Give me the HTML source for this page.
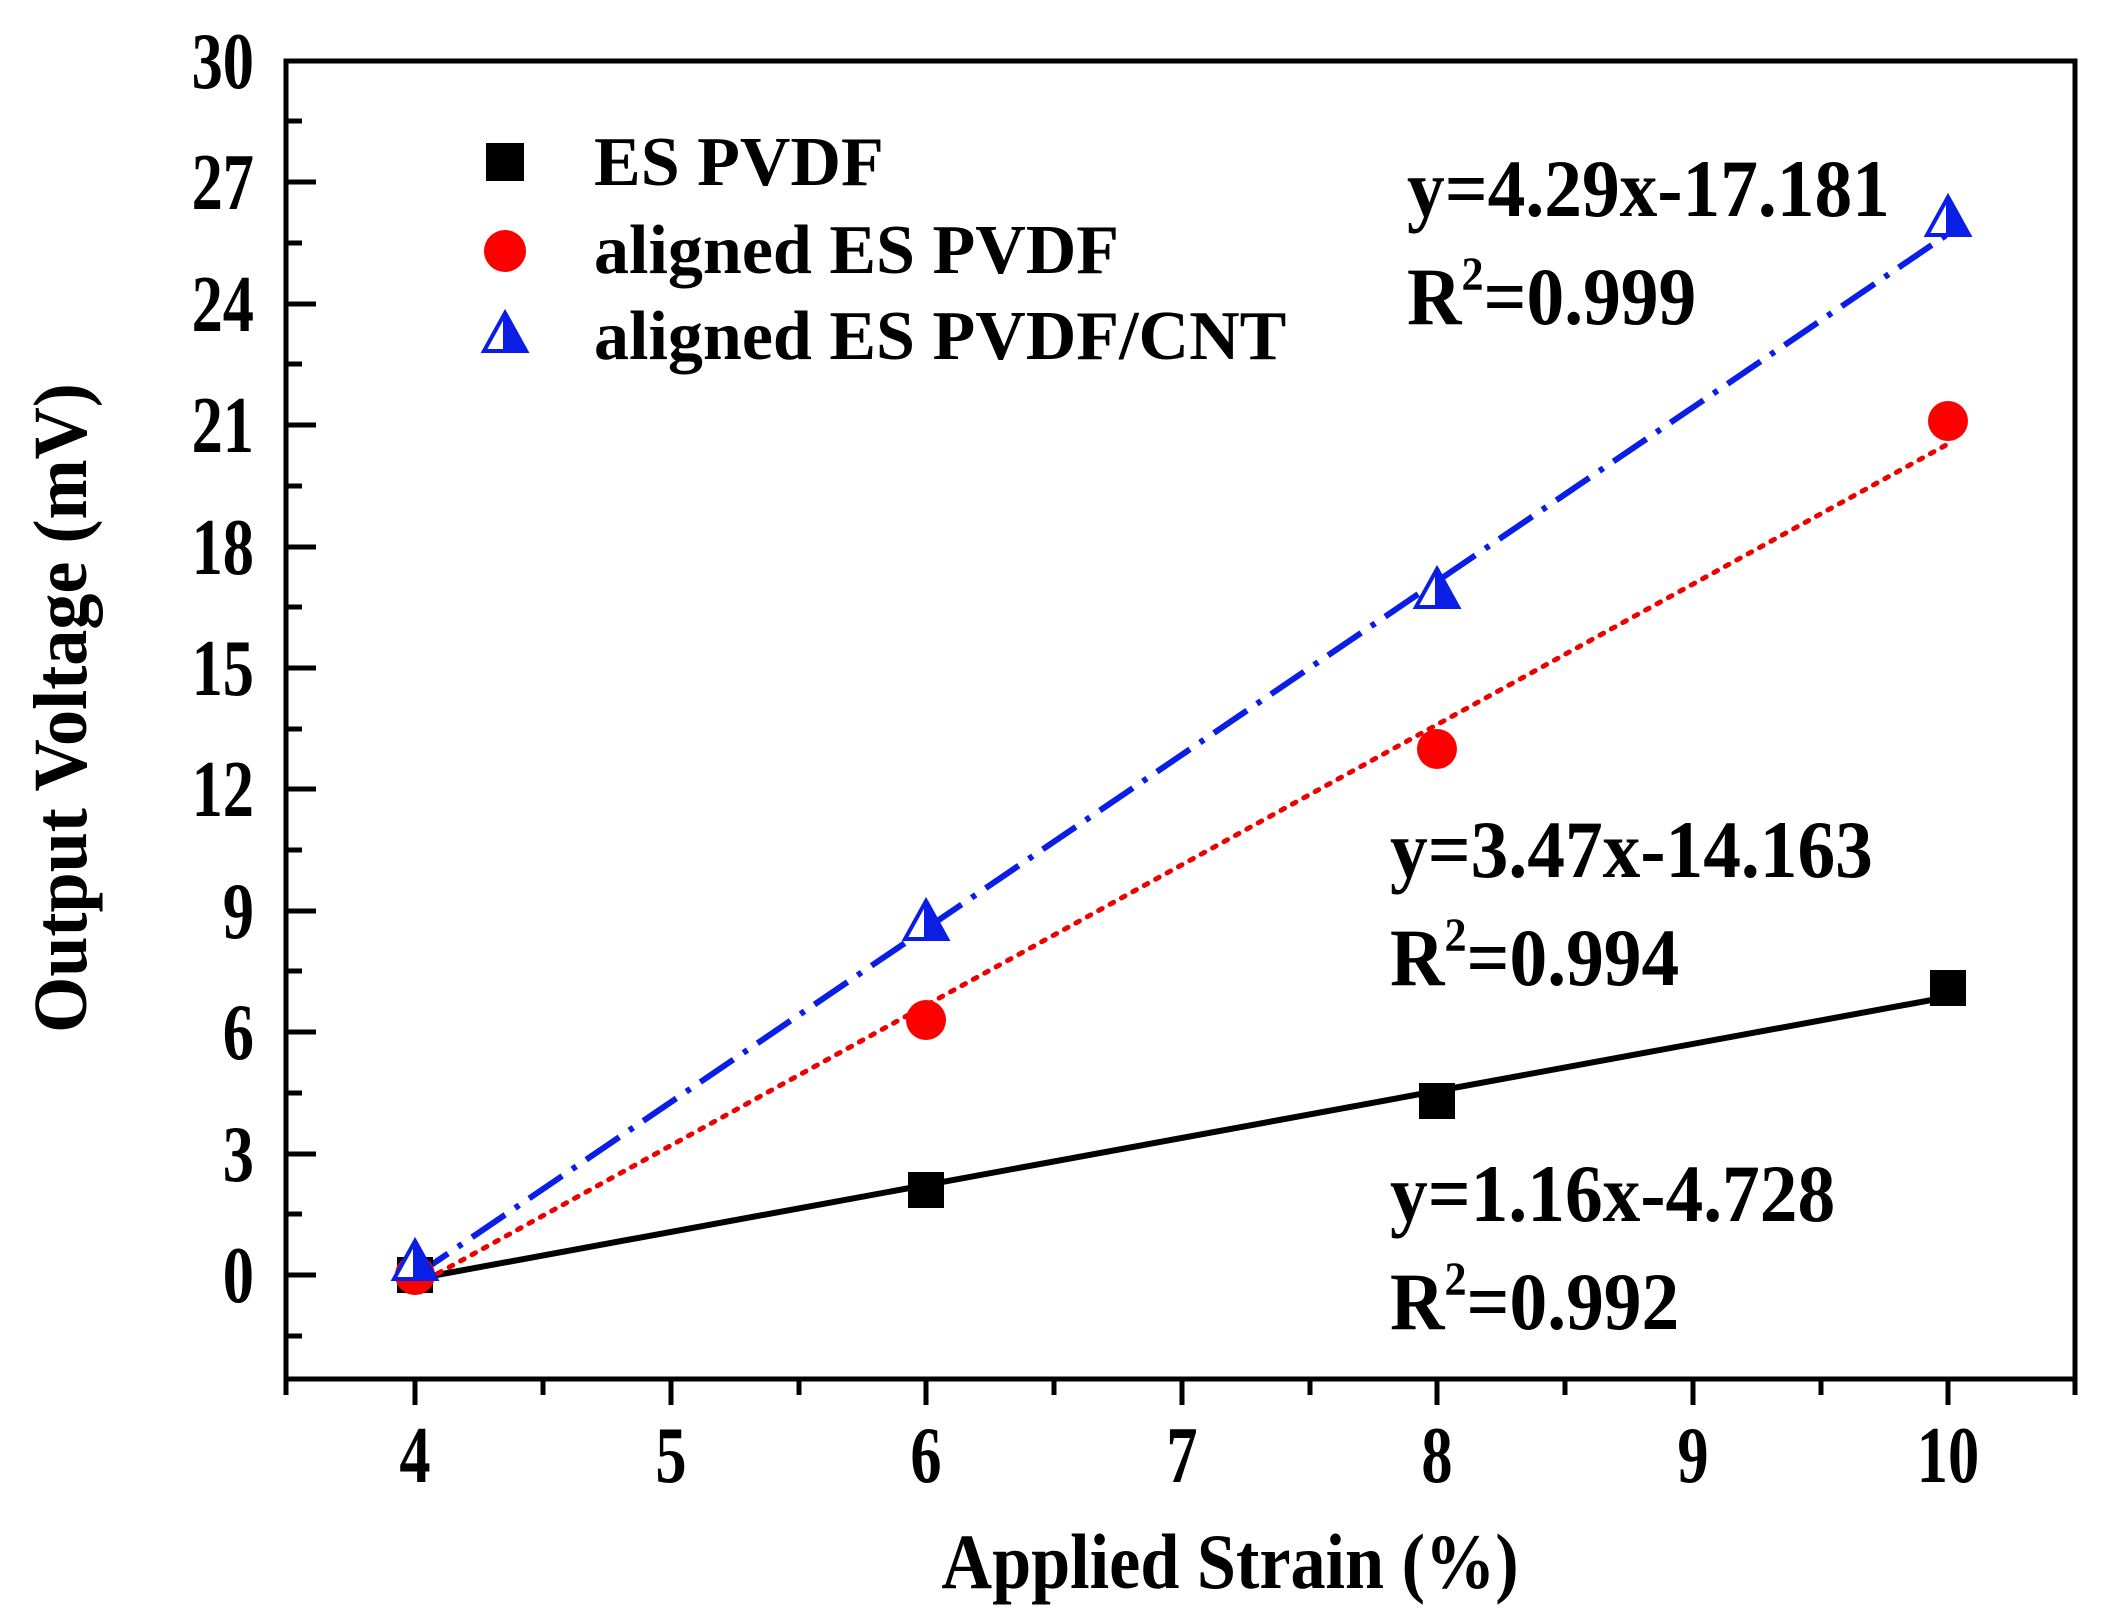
<!DOCTYPE html>
<html><head><meta charset="utf-8"><style>
html,body{margin:0;padding:0;background:#fff;}
svg{display:block;}
text{font-family:"Liberation Serif","Times New Roman",serif;font-weight:bold;fill:#000;}
</style></head><body>
<svg width="2104" height="1612" viewBox="0 0 2104 1612" xmlns="http://www.w3.org/2000/svg">
<rect width="2104" height="1612" fill="#fff"/>
<line x1="415" y1="1279" x2="1948" y2="997" stroke="#000" stroke-width="6"/>
<line x1="415" y1="1286" x2="1948" y2="444" stroke="#e00" stroke-width="5" stroke-dasharray="4,9" stroke-linecap="round"/>
<line x1="415" y1="1276" x2="1948" y2="234" stroke="#0a1ee6" stroke-width="6" stroke-dasharray="40,12,5,12"/>
<rect x="286" y="61" width="1789" height="1318" fill="none" stroke="#000" stroke-width="5"/>
<g stroke="#000" stroke-width="5">
<line x1="286" y1="1275" x2="316" y2="1275"/><line x1="286" y1="1154" x2="316" y2="1154"/>
<line x1="286" y1="1032" x2="316" y2="1032"/><line x1="286" y1="911" x2="316" y2="911"/>
<line x1="286" y1="789" x2="316" y2="789"/><line x1="286" y1="668" x2="316" y2="668"/>
<line x1="286" y1="547" x2="316" y2="547"/><line x1="286" y1="425" x2="316" y2="425"/>
<line x1="286" y1="304" x2="316" y2="304"/><line x1="286" y1="182" x2="316" y2="182"/>
<line x1="286" y1="1336" x2="302" y2="1336"/><line x1="286" y1="1214" x2="302" y2="1214"/>
<line x1="286" y1="1093" x2="302" y2="1093"/><line x1="286" y1="971" x2="302" y2="971"/>
<line x1="286" y1="850" x2="302" y2="850"/><line x1="286" y1="729" x2="302" y2="729"/>
<line x1="286" y1="607" x2="302" y2="607"/><line x1="286" y1="486" x2="302" y2="486"/>
<line x1="286" y1="364" x2="302" y2="364"/><line x1="286" y1="243" x2="302" y2="243"/>
<line x1="286" y1="121" x2="302" y2="121"/>
<line x1="415" y1="1379" x2="415" y2="1405"/><line x1="671" y1="1379" x2="671" y2="1405"/>
<line x1="926" y1="1379" x2="926" y2="1405"/><line x1="1182" y1="1379" x2="1182" y2="1405"/>
<line x1="1437" y1="1379" x2="1437" y2="1405"/><line x1="1693" y1="1379" x2="1693" y2="1405"/>
<line x1="1948" y1="1379" x2="1948" y2="1405"/>
<line x1="286" y1="1379" x2="286" y2="1395"/><line x1="543" y1="1379" x2="543" y2="1395"/>
<line x1="799" y1="1379" x2="799" y2="1395"/><line x1="1054" y1="1379" x2="1054" y2="1395"/>
<line x1="1310" y1="1379" x2="1310" y2="1395"/><line x1="1565" y1="1379" x2="1565" y2="1395"/>
<line x1="1821" y1="1379" x2="1821" y2="1395"/><line x1="2075" y1="1379" x2="2075" y2="1395"/>
</g>
<g font-size="80" text-anchor="end">
<text transform="translate(254,1302) scale(0.78,1)">0</text>
<text transform="translate(254,1181) scale(0.78,1)">3</text>
<text transform="translate(254,1059) scale(0.78,1)">6</text>
<text transform="translate(254,938) scale(0.78,1)">9</text>
<text transform="translate(254,816) scale(0.78,1)">12</text>
<text transform="translate(254,695) scale(0.78,1)">15</text>
<text transform="translate(254,574) scale(0.78,1)">18</text>
<text transform="translate(254,452) scale(0.78,1)">21</text>
<text transform="translate(254,331) scale(0.78,1)">24</text>
<text transform="translate(254,209) scale(0.78,1)">27</text>
<text transform="translate(254,88) scale(0.78,1)">30</text>
</g>
<g font-size="80" text-anchor="middle">
<text transform="translate(415,1482) scale(0.78,1)">4</text>
<text transform="translate(671,1482) scale(0.78,1)">5</text>
<text transform="translate(926,1482) scale(0.78,1)">6</text>
<text transform="translate(1182,1482) scale(0.78,1)">7</text>
<text transform="translate(1437,1482) scale(0.78,1)">8</text>
<text transform="translate(1693,1482) scale(0.78,1)">9</text>
<text transform="translate(1948,1482) scale(0.78,1)">10</text>
</g>
<text transform="translate(1230,1588) scale(0.9,1)" font-size="78" text-anchor="middle">Applied Strain (%)</text>
<text transform="translate(86,708) rotate(-90) scale(0.95,1)" font-size="76" text-anchor="middle">Output Voltage (mV)</text>
<g fill="#000">
<rect x="397" y="1257" width="36" height="36"/>
<rect x="908" y="1172" width="36" height="36"/>
<rect x="1419" y="1083" width="36" height="36"/>
<rect x="1930" y="970" width="36" height="36"/>
</g>
<g fill="#f00">
<circle cx="415" cy="1275" r="20"/><circle cx="926" cy="1020" r="20"/>
<circle cx="1437" cy="749" r="20"/><circle cx="1948" cy="421" r="20"/>
</g>
<g stroke="#0a1ee6" stroke-width="4">
<g transform="translate(415,1263)"><polygon points="0,-22 21,16 -21,16" fill="#fff"/><polygon points="0,-22 21,16 0,16" fill="#0a1ee6"/></g>
<g transform="translate(926,923)"><polygon points="0,-22 21,16 -21,16" fill="#fff"/><polygon points="0,-22 21,16 0,16" fill="#0a1ee6"/></g>
<g transform="translate(1437,591)"><polygon points="0,-22 21,16 -21,16" fill="#fff"/><polygon points="0,-22 21,16 0,16" fill="#0a1ee6"/></g>
<g transform="translate(1948,219)"><polygon points="0,-22 21,16 -21,16" fill="#fff"/><polygon points="0,-22 21,16 0,16" fill="#0a1ee6"/></g>
</g>
<rect x="486" y="143" width="38" height="38" fill="#000"/>
<circle cx="505" cy="251" r="21" fill="#f00"/>
<g transform="translate(505,335)" stroke="#0a1ee6" stroke-width="4"><polygon points="0,-22 21,16 -21,16" fill="#fff"/><polygon points="0,-22 21,16 0,16" fill="#0a1ee6"/></g>
<g font-size="70">
<text x="594" y="185">ES PVDF</text>
<text x="594" y="273">aligned ES PVDF</text>
<text x="594" y="359">aligned ES PVDF/CNT</text>
</g>
<g font-size="82">
<text transform="translate(1407,216) scale(0.92,1)">y=4.29x-17.181</text>
<text transform="translate(1407,324) scale(0.92,1)">R<tspan font-size="48" dy="-34">2</tspan><tspan dy="34">=0.999</tspan></text>
<text transform="translate(1390,877) scale(0.92,1)">y=3.47x-14.163</text>
<text transform="translate(1390,985) scale(0.92,1)">R<tspan font-size="48" dy="-34">2</tspan><tspan dy="34">=0.994</tspan></text>
<text transform="translate(1390,1221) scale(0.92,1)">y=1.16x-4.728</text>
<text transform="translate(1390,1329) scale(0.92,1)">R<tspan font-size="48" dy="-34">2</tspan><tspan dy="34">=0.992</tspan></text>
</g>
</svg>
</body></html>
